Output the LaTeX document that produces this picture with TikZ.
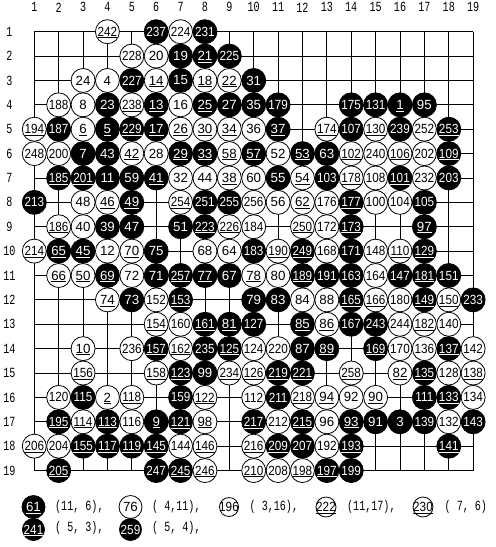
\documentclass[tikz,border=0pt]{standalone}
\usepackage{fontspec}
\setmainfont{Liberation Sans}
\newfontfamily\lblfont{Liberation Mono}
\usepackage{graphicx}
\newcommand\ulx[2]{\setbox0=\hbox{#1}\ifnum#2=1\relax\rlap{\raisebox{-1.9pt}[0pt][0pt]{\rule{\wd0}{0.8pt}}}\fi\box0}
\newcommand\stonetext[2]{\makebox[0pt]{\ifnum#1>99\relax\scalebox{0.88}[1]{\ulx{#1}{#2}}\else\ulx{#1}{#2}\fi}}
\newcommand\lbltext[1]{\scalebox{0.72}[1]{#1}}
\tikzset{
  stone/.style={circle, inner sep=0pt, minimum size=24pt, line width=0.8pt, draw=black, font=\fontsize{13.3}{13.3}\selectfont},
  ws/.style={stone, fill=white, text=black},
  bs/.style={stone, fill=black, text=white},
  lbl/.style={inner sep=0pt, font=\lblfont\fontsize{14}{14}\selectfont},
  gridline/.style={line width=0.8pt, draw=black}
}
\begin{document}
\begin{tikzpicture}[x=1pt,y=-1pt]
\useasboundingbox (0,0) rectangle (496,547);
\fill[white] (0,0) rectangle (496,547);
\begin{scope}[shift={(9.92,7.32)}, x=24.38pt, y=-24.38pt]
  % grid
  \foreach \k in {1,...,19} {
    \draw[gridline] (1,\k) -- (19,\k);
    \draw[gridline] (\k,1) -- (\k,19);
    \node[lbl] (cl\k) at (\k,0) {\lbltext{\k}};
    \node[lbl] (rl\k) at (-0.02,\k) {\lbltext{\k}};
  }
  % stones
  \foreach \cc/\rr/\nn/\ty/\uu in {
    4/1/242/ws/1, 6/1/237/bs/0, 7/1/224/ws/0, 8/1/231/bs/0,
    5/2/228/ws/0, 6/2/20/ws/0, 7/2/19/bs/0, 8/2/21/bs/1, 9/2/225/bs/0,
    3/3/24/ws/0, 4/3/4/ws/0, 5/3/227/bs/0, 6/3/14/ws/1, 7/3/15/bs/0, 8/3/18/ws/1, 9/3/22/ws/1, 10/3/31/bs/0,
    2/4/188/ws/0, 3/4/8/ws/0, 4/4/23/bs/0, 5/4/238/ws/1, 6/4/13/bs/1, 7/4/16/ws/0, 8/4/25/bs/1, 9/4/27/bs/0, 10/4/35/bs/0, 11/4/179/bs/0, 14/4/175/bs/0, 15/4/131/bs/0, 16/4/1/bs/1, 17/4/95/bs/0,
    1/5/194/ws/1, 2/5/187/bs/0, 3/5/6/ws/1, 4/5/5/bs/1, 5/5/229/bs/1, 6/5/17/bs/1, 7/5/26/ws/1, 8/5/30/ws/1, 9/5/34/ws/1, 10/5/36/ws/0, 11/5/37/bs/1, 13/5/174/ws/1, 14/5/107/bs/0, 15/5/130/ws/1, 16/5/239/bs/0, 17/5/252/ws/0, 18/5/253/bs/1,
    1/6/248/ws/0, 2/6/200/ws/0, 3/6/7/bs/0, 4/6/43/bs/0, 5/6/42/ws/1, 6/6/28/ws/0, 7/6/29/bs/1, 8/6/33/bs/1, 9/6/58/ws/1, 10/6/57/bs/1, 11/6/52/ws/0, 12/6/53/bs/1, 13/6/63/bs/0, 14/6/102/ws/1, 15/6/240/ws/0, 16/6/106/ws/1, 17/6/202/ws/0, 18/6/109/bs/1,
    2/7/185/bs/1, 3/7/201/bs/1, 4/7/11/bs/0, 5/7/59/bs/0, 6/7/41/bs/1, 7/7/32/ws/0, 8/7/44/ws/0, 9/7/38/ws/1, 10/7/60/ws/0, 11/7/55/bs/0, 12/7/54/ws/1, 13/7/103/bs/0, 14/7/178/ws/1, 15/7/108/ws/0, 16/7/101/bs/1, 17/7/232/ws/0, 18/7/203/bs/0,
    1/8/213/bs/0, 3/8/48/ws/0, 4/8/46/ws/1, 5/8/49/bs/1, 7/8/254/ws/1, 8/8/251/bs/0, 9/8/255/bs/0, 10/8/256/ws/0, 11/8/56/ws/0, 12/8/62/ws/1, 13/8/176/ws/0, 14/8/177/bs/1, 15/8/100/ws/0, 16/8/104/ws/0, 17/8/105/bs/0,
    2/9/186/ws/1, 3/9/40/ws/0, 4/9/39/bs/0, 5/9/47/bs/0, 7/9/51/bs/0, 8/9/223/bs/1, 9/9/226/ws/1, 10/9/184/ws/0, 12/9/250/ws/1, 13/9/172/ws/0, 14/9/173/bs/1, 17/9/97/bs/1,
    1/10/214/ws/1, 2/10/65/bs/1, 3/10/45/bs/1, 4/10/12/ws/0, 5/10/70/ws/1, 6/10/75/bs/0, 8/10/68/ws/0, 9/10/64/ws/0, 10/10/183/bs/0, 11/10/190/ws/1, 12/10/249/bs/1, 13/10/168/ws/0, 14/10/171/bs/0, 15/10/148/ws/0, 16/10/110/ws/1, 17/10/129/bs/1,
    2/11/66/ws/1, 3/11/50/ws/1, 4/11/69/bs/1, 5/11/72/ws/0, 6/11/71/bs/0, 7/11/257/bs/1, 8/11/77/bs/1, 9/11/67/bs/0, 10/11/78/ws/1, 11/11/80/ws/0, 12/11/189/bs/1, 13/11/191/bs/0, 14/11/163/bs/0, 15/11/164/ws/0, 16/11/147/bs/0, 17/11/181/bs/1, 18/11/151/bs/0,
    4/12/74/ws/1, 5/12/73/bs/0, 6/12/152/ws/0, 7/12/153/bs/1, 10/12/79/bs/0, 11/12/83/bs/0, 12/12/84/ws/0, 13/12/88/ws/0, 14/12/165/bs/1, 15/12/166/ws/1, 16/12/180/ws/0, 17/12/149/bs/1, 18/12/150/ws/1, 19/12/233/bs/0,
    6/13/154/ws/1, 7/13/160/ws/0, 8/13/161/bs/1, 9/13/81/bs/1, 10/13/127/bs/0, 12/13/85/bs/1, 13/13/86/ws/1, 14/13/167/bs/0, 15/13/243/bs/0, 16/13/244/ws/0, 17/13/182/ws/1, 18/13/140/ws/0,
    3/14/10/ws/1, 5/14/236/ws/0, 6/14/157/bs/1, 7/14/162/ws/1, 8/14/235/bs/0, 9/14/125/bs/1, 10/14/124/ws/0, 11/14/220/ws/0, 12/14/87/bs/0, 13/14/89/bs/1, 15/14/169/bs/1, 16/14/170/ws/0, 17/14/136/ws/0, 18/14/137/bs/1, 19/14/142/ws/0,
    3/15/156/ws/1, 6/15/158/ws/1, 7/15/123/bs/1, 8/15/99/bs/0, 9/15/234/ws/1, 10/15/126/ws/1, 11/15/219/bs/1, 12/15/221/bs/1, 14/15/258/ws/1, 16/15/82/ws/1, 17/15/135/bs/1, 18/15/128/ws/0, 19/15/138/ws/1,
    2/16/120/ws/0, 3/16/115/bs/0, 4/16/2/ws/1, 5/16/118/ws/1, 7/16/159/bs/0, 8/16/122/ws/1, 10/16/112/ws/0, 11/16/211/bs/0, 12/16/218/ws/1, 13/16/94/ws/1, 14/16/92/ws/0, 15/16/90/ws/1, 17/16/111/bs/0, 18/16/133/bs/1, 19/16/134/ws/0,
    2/17/195/bs/1, 3/17/114/ws/1, 4/17/113/bs/1, 5/17/116/ws/0, 6/17/9/bs/1, 7/17/121/bs/1, 8/17/98/ws/1, 10/17/217/bs/1, 11/17/212/ws/0, 12/17/215/bs/1, 13/17/96/ws/0, 14/17/93/bs/1, 15/17/91/bs/0, 16/17/3/bs/0, 17/17/139/bs/0, 18/17/132/ws/0, 19/17/143/bs/0,
    1/18/206/ws/1, 2/18/204/ws/0, 3/18/155/bs/1, 4/18/117/bs/1, 5/18/119/bs/1, 6/18/145/bs/1, 7/18/144/ws/0, 8/18/146/ws/1, 10/18/216/ws/1, 11/18/209/bs/1, 12/18/207/bs/0, 13/18/192/ws/0, 14/18/193/bs/1, 18/18/141/bs/1,
    2/19/205/bs/1, 6/19/247/bs/0, 7/19/245/bs/1, 8/19/246/ws/1, 10/19/210/ws/1, 11/19/208/ws/0, 12/19/198/ws/1, 13/19/197/bs/1, 14/19/199/bs/0
  } {
    \node[\ty] (s\nn) at (\cc,\rr) {\stonetext{\nn}{\uu}};
  }
\end{scope}
% legend
\node[bs, minimum size=23pt] (s61) at (33.5,507) {\stonetext{61}{1}};
\node[lbl, anchor=west] (lt61) at (55,507) {\lbltext{(11,\phantom{0}6),}};
\node[ws, minimum size=23pt] (s76) at (130.5,507) {\stonetext{76}{0}};
\node[lbl, anchor=west] (lt76) at (152,507) {\lbltext{(\phantom{0}4,11),}};
\node[ws, minimum size=19pt] (s196) at (229,507) {\stonetext{196}{0}};
\node[lbl, anchor=west] (lt196) at (249.5,507) {\lbltext{(\phantom{0}3,16),}};
\node[ws, minimum size=20pt] (s222) at (326,507) {\stonetext{222}{1}};
\node[lbl, anchor=west] (lt222) at (347,507) {\lbltext{(11,17),}};
\node[ws, minimum size=20pt] (s230) at (423,507) {\stonetext{230}{1}};
\node[lbl, anchor=west] (lt230) at (444.5,507) {\lbltext{(\phantom{0}7,\phantom{0}6)}};
\node[bs, minimum size=22pt] (s241) at (33.5,529.5) {\stonetext{241}{1}};
\node[lbl, anchor=west] (lt241) at (55,528) {\lbltext{(\phantom{0}5,\phantom{0}3),}};
\node[bs, minimum size=22pt] (s259) at (130.5,529.5) {\stonetext{259}{0}};
\node[lbl, anchor=west] (lt259) at (152,528) {\lbltext{(\phantom{0}5,\phantom{0}4),}};
\end{tikzpicture}
\end{document}
